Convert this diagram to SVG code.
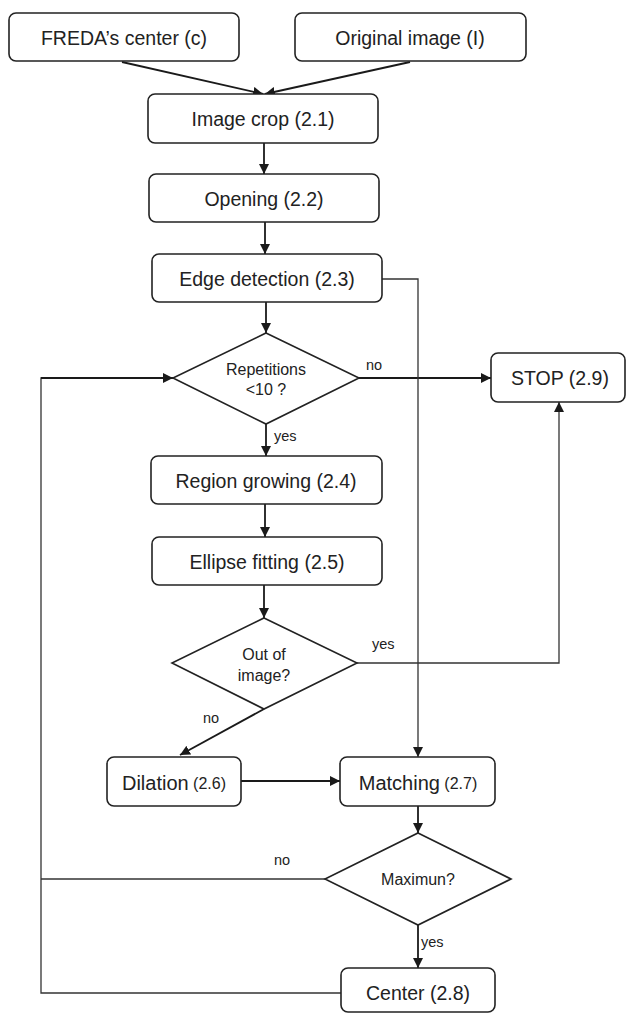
<svg xmlns="http://www.w3.org/2000/svg" width="626" height="1013" viewBox="0 0 626 1013">
<defs>
<style>
.box{fill:#fff;stroke:#222;stroke-width:1.6}
.dia{fill:#fff;stroke:#222;stroke-width:1.6}
.t{font-family:"Liberation Sans",Arial,sans-serif;font-size:19.5px;fill:#222;text-anchor:middle;dominant-baseline:central}
.ts{font-family:"Liberation Sans",Arial,sans-serif;font-size:16px;fill:#222;text-anchor:middle;dominant-baseline:central}
.lb{font-family:"Liberation Sans",Arial,sans-serif;font-size:14.5px;fill:#222;dominant-baseline:central}
.c{fill:none;stroke:#1a1a1a;stroke-width:1.8}
.thin{fill:none;stroke:#333;stroke-width:1.3}
</style>
<marker id="ah" viewBox="0 0 10 10" refX="10" refY="5" markerWidth="10" markerHeight="10" markerUnits="userSpaceOnUse" orient="auto">
<path d="M0,0 L10,5 L0,10 z" fill="#1a1a1a"/>
</marker>
</defs>
<g id="connectors">
<line class="c" x1="122" y1="62" x2="263" y2="94" marker-end="url(#ah)"/>
<line class="c" x1="410" y1="62" x2="265" y2="94" marker-end="url(#ah)"/>
<line class="c" x1="264" y1="143" x2="264" y2="174" marker-end="url(#ah)"/>
<line class="c" x1="265" y1="222" x2="265" y2="254" marker-end="url(#ah)"/>
<line class="c" x1="266" y1="302" x2="266" y2="333" marker-end="url(#ah)"/>
<line class="c" x1="359" y1="378" x2="491" y2="378" marker-end="url(#ah)"/>
<line class="c" x1="266" y1="424" x2="266" y2="456" marker-end="url(#ah)"/>
<line class="c" x1="265" y1="504" x2="265" y2="537" marker-end="url(#ah)"/>
<line class="c" x1="264" y1="585" x2="264" y2="618" marker-end="url(#ah)"/>
<polyline class="thin" points="357,663 559,663 559,402" marker-end="url(#ah)"/>
<line class="c" x1="264" y1="709" x2="180" y2="755" marker-end="url(#ah)"/>
<polyline class="thin" points="382,279 418,279 418,757" marker-end="url(#ah)"/>
<line class="c" x1="241" y1="781" x2="340" y2="781" marker-end="url(#ah)"/>
<line class="c" x1="418" y1="806" x2="418" y2="833" marker-end="url(#ah)"/>
<polyline class="thin" points="325,879 41,879"/>
<line class="c" x1="418" y1="925" x2="418" y2="968" marker-end="url(#ah)"/>
<polyline class="thin" points="341,993 41,993 41,378 173,378"/>
<line class="c" x1="41" y1="378" x2="173" y2="378" marker-end="url(#ah)"/>
<text class="lb" x="366" y="365">no</text>
<text class="lb" x="274" y="436">yes</text>
<text class="lb" x="372" y="644">yes</text>
<text class="lb" x="203" y="718">no</text>
<text class="lb" x="274" y="860">no</text>
<text class="lb" x="421" y="942">yes</text>
</g>
<g id="n_freda"><rect class="box" x="9" y="13" width="230" height="48" rx="7"/><text class="t" x="124" y="38">FREDA’s center (c)</text></g>
<g id="n_orig"><rect class="box" x="295" y="13" width="231" height="48" rx="7"/><text class="t" x="410" y="38">Original image (I)</text></g>
<g id="n_crop"><rect class="box" x="148" y="94" width="230" height="49" rx="7"/><text class="t" x="263" y="119">Image crop (2.1)</text></g>
<g id="n_open"><rect class="box" x="149" y="174" width="230" height="48" rx="7"/><text class="t" x="264" y="199">Opening (2.2)</text></g>
<g id="n_edge"><rect class="box" x="152" y="254" width="230" height="48" rx="7"/><text class="t" x="267" y="279">Edge detection (2.3)</text></g>
<g id="n_rep"><polygon class="dia" points="266,333 359,378 266,424 173,378"/><text class="ts" x="266" y="369">Repetitions</text><text class="ts" x="266" y="389">&lt;10 ?</text></g>
<g id="n_stop"><rect class="box" x="491" y="353" width="134" height="49" rx="7"/><text class="t" x="560" y="378">STOP (2.9)</text></g>
<g id="n_region"><rect class="box" x="151" y="456" width="231" height="48" rx="7"/><text class="t" x="266" y="481">Region growing (2.4)</text></g>
<g id="n_ellipse"><rect class="box" x="152" y="537" width="230" height="48" rx="7"/><text class="t" x="267" y="562">Ellipse fitting (2.5)</text></g>
<g id="n_out"><polygon class="dia" points="264,618 357,663 264,709 172,663"/><text class="ts" x="264" y="654">Out of</text><text class="ts" x="264" y="675">image?</text></g>
<g id="n_dil"><rect class="box" x="107" y="757" width="134" height="49" rx="7"/><text class="t" x="174" y="783"><tspan font-size="20">Dilation</tspan><tspan font-size="16"> (2.6)</tspan></text></g>
<g id="n_match"><rect class="box" x="340" y="757" width="155" height="49" rx="7"/><text class="t" x="418" y="783"><tspan font-size="20">Matching</tspan><tspan font-size="16"> (2.7)</tspan></text></g>
<g id="n_max"><polygon class="dia" points="418,833 511,879 418,925 325,879"/><text class="ts" x="418" y="879">Maximun?</text></g>
<g id="n_center"><rect class="box" x="341" y="968" width="154" height="44" rx="7"/><text class="t" x="418" y="993">Center (2.8)</text></g>
</svg>
